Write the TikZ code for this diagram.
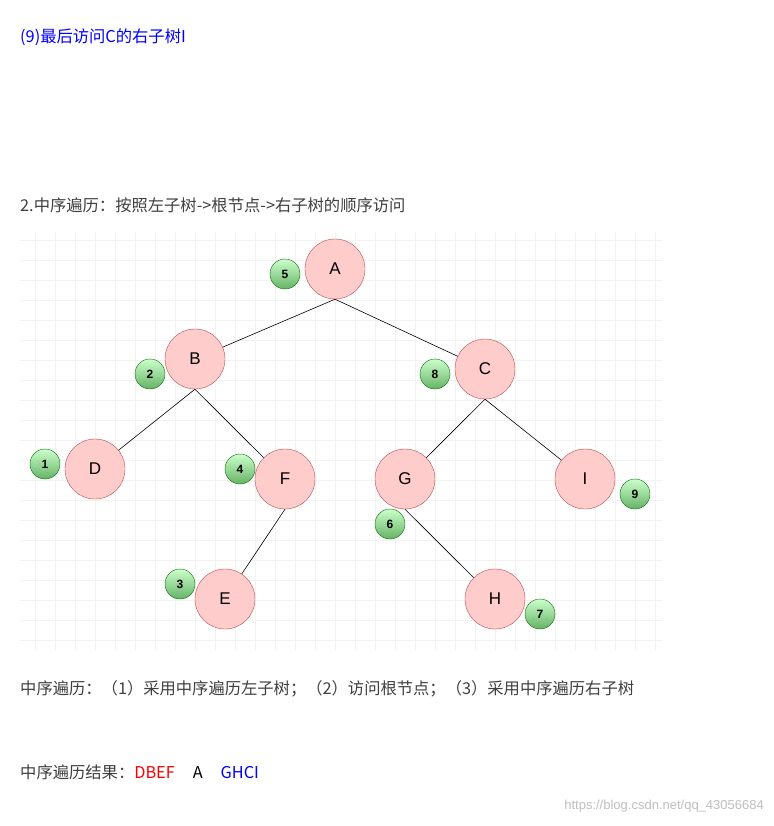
\documentclass[tikz,border=0pt]{standalone}
\usepackage{fontspec}
\setmainfont{Liberation Sans}
\newfontfamily\cjk{Noto Sans CJK SC}
\begin{document}
\begin{tikzpicture}[x=1pt,y=-1pt,
 tn/.style={circle,draw=red!60!black!70,fill=red!20,minimum size=60pt,inner sep=0pt,font=\fontsize{17}{17}\selectfont},
 gn/.style={circle,draw=green!45!black,top color=green!20!white,bottom color=green!50!black!60,minimum size=30pt,inner sep=0pt,font=\bfseries\fontsize{12}{12}\selectfont},
 txt/.style={anchor=west,inner sep=0pt,font=\cjk\fontsize{16.3}{16.3}\selectfont},
 ed/.style={black,line width=0.6pt}]
\useasboundingbox[fill=white] (0,0) rectangle (773,826);
\foreach \x in {35,55,...,655} \draw[black!5] (\x,232) -- (\x,650);
\foreach \y in {240,260,...,640} \draw[black!5] (20,\y) -- (662,\y);
\node[tn] (A) at (335,269) {A};
\node[tn] (B) at (195,359) {B};
\node[tn] (C) at (485,369) {C};
\node[tn] (D) at (95,469) {D};
\node[tn] (F) at (285,479) {F};
\node[tn] (G) at (405,479) {G};
\node[tn] (I) at (585,479) {I};
\node[tn] (E) at (225,599) {E};
\node[tn] (H) at (495,599) {H};
\draw[ed] (A.south) -- (B);
\draw[ed] (A.south) -- (C);
\draw[ed] (B.south) -- (D);
\draw[ed] (B.south) -- (F);
\draw[ed] (C.south) -- (G);
\draw[ed] (C.south) -- (I);
\draw[ed] (F.south) -- (E);
\draw[ed] (G.south) -- (H);
\node[gn] (n5) at (285,274) {5};
\node[gn] (n2) at (150,374) {2};
\node[gn] (n8) at (435,374) {8};
\node[gn] (n1) at (45,464) {1};
\node[gn] (n4) at (240,469) {4};
\node[gn] (n6) at (390,524) {6};
\node[gn] (n9) at (635,494) {9};
\node[gn] (n3) at (180,584) {3};
\node[gn] (n7) at (540,614) {7};
\node[txt,text=blue] (t1) at (20,37) {(9)最后访问C的右子树I};
\node[txt,text=black!75] (t2) at (20,205) {2.中序遍历：按照左子树->根节点->右子树的顺序访问};
\node[txt,text=black!75] (t3) at (20,689) {中序遍历：（1）采用中序遍历左子树；（2）访问根节点；（3）采用中序遍历右子树};
\node[txt,text=black!75] (t4) at (20,772) {中序遍历结果：\textcolor{red}{DBEF}\hspace{18pt}\textcolor{black}{A}\hspace{18pt}\textcolor{blue}{GHCI}};
\node[anchor=east,inner sep=0pt,text=black!25,font=\fontsize{13}{13}\selectfont] (wm) at (764,806) {https://blog.csdn.net/qq\_43056684};
\end{tikzpicture}
\end{document}
